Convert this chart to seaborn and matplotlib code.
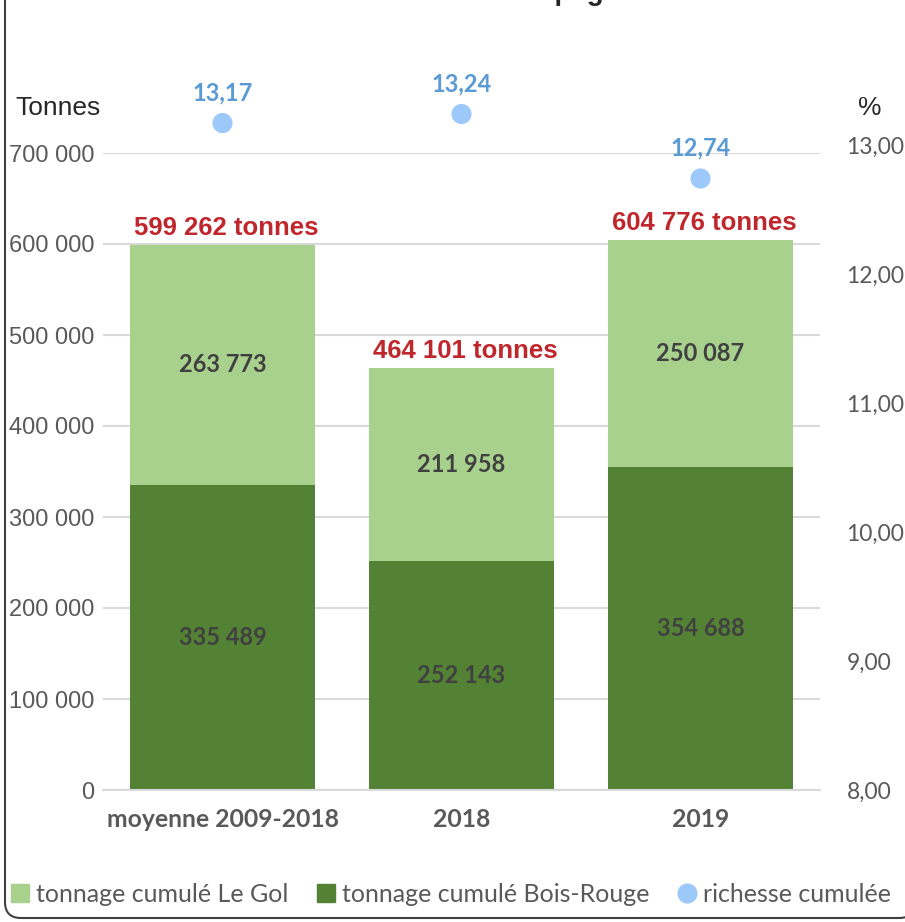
import numpy as np
import pandas as pd
import matplotlib
matplotlib.use("Agg")
import matplotlib.pyplot as plt
from matplotlib.lines import Line2D
from matplotlib.patches import FancyBboxPatch
from matplotlib.ticker import FuncFormatter
import seaborn as sns

# données
categories = ["moyenne 2009-2018", "2018", "2019"]
bois_rouge = [335489, 252143, 354688]
le_gol = [263773, 211958, 250087]
totaux = [599262, 464101, 604776]
richesse = [13.17, 13.24, 12.74]

C_GOL = "#A9D18E"
C_BR = "#548235"
C_RICH = "#9DC8FA"
C_RICH_TXT = "#5B9BD5"
C_TOTAL = "#C0272D"
C_GRIS = "#595959"

def fr(v):
    return f"{int(round(v)):,}".replace(",", " ")

df = pd.DataFrame({"cat": categories, "br": bois_rouge, "gol": le_gol, "total": totaux})

sns.set_style("white")
plt.rcParams["font.family"] = ["Liberation Sans", "DejaVu Sans"]

fig = plt.figure(figsize=(9.05, 9.22), dpi=100)
ax = fig.add_axes([103 / 905, 1 - 790 / 922, 717 / 905, 637 / 922])

# barres empilées : total en clair, Bois-Rouge par-dessus
sns.barplot(data=df, x="cat", y="total", color=C_GOL, width=0.774, ax=ax,
            saturation=1, linewidth=0)
sns.barplot(data=df, x="cat", y="br", color=C_BR, width=0.774, ax=ax,
            saturation=1, linewidth=0)

ax.set_xlim(-0.5, 2.5)
ax.set_ylim(0, 700000)
ax.set_yticks(np.arange(0, 700001, 100000))
ax.yaxis.set_major_formatter(FuncFormatter(lambda v, p: fr(v)))
ax.grid(axis="y", color="#D9D9D9", lw=1.5)
ax.set_axisbelow(True)
for s in ["top", "left", "right"]:
    ax.spines[s].set_visible(False)
ax.spines["bottom"].set_color("#D9D9D9")
ax.spines["bottom"].set_linewidth(1.5)
ax.tick_params(axis="y", length=0, pad=6, labelsize=17, labelcolor=C_GRIS)
ax.tick_params(axis="x", length=0, pad=13)
ax.set_xlabel("")
ax.set_ylabel("")
ax.set_xticks(range(len(categories)))
ax.set_xticklabels(categories, family="Lato", fontweight="bold", fontsize=17.8, color=C_GRIS)

for i in range(len(categories)):
    ax.text(i, bois_rouge[i] / 2, fr(bois_rouge[i]), ha="center", va="center",
            family="Lato", fontweight="bold", fontsize=17, color="#404040")
    ax.text(i, bois_rouge[i] + le_gol[i] / 2, fr(le_gol[i]), ha="center", va="center",
            family="Lato", fontweight="bold", fontsize=17, color="#404040")
    ax.annotate(fr(totaux[i]) + " tonnes", (i, totaux[i]), xytext=(3, 12),
                textcoords="offset points", ha="center", va="center",
                fontweight="bold", fontsize=18.5, color=C_TOTAL, annotation_clip=False)

# richesse sur l'axe de droite (axe un peu plus haut : 13,00 au-dessus de 700 000)
ax2 = fig.add_axes([103 / 905, 1 - 790 / 922, 717 / 905, 645 / 922])
ax2.patch.set_visible(False)
sns.scatterplot(x=np.arange(len(categories)), y=richesse, ax=ax2, color=C_RICH,
                s=210, edgecolor="none", clip_on=False, legend=False, zorder=5)
ax2.set_xlim(-0.5, 2.5)
ax2.set_xticks([])
ax2.set_xlabel("")
ax2.yaxis.tick_right()
ax2.set_yticks(np.arange(8, 13.01, 1))
ax2.set_ylim(8, 13)
ax2.yaxis.set_major_formatter(FuncFormatter(lambda v, p: f"{v:.2f}".replace(".", ",")))
ax2.tick_params(axis="y", length=0, pad=19)
for lab in ax2.get_yticklabels():
    lab.set_family("Lato")
    lab.set_fontsize(16.5)
    lab.set_color(C_GRIS)
for s in ["top", "left", "right", "bottom"]:
    ax2.spines[s].set_visible(False)
ax2.grid(False)
for i, r in enumerate(richesse):
    ax2.annotate(f"{r:.2f}".replace(".", ","), (i, r), xytext=(0, 22),
                 textcoords="offset points", ha="center", va="center",
                 family="Lato", fontweight="bold", fontsize=17, color=C_RICH_TXT,
                 annotation_clip=False)

# titres d'axes
fig.text(15 / 905, 1 - 108 / 922, "Tonnes", ha="left", va="center", fontsize=19, color="#262626")
fig.text(870 / 905, 1 - 108 / 922, "%", ha="center", va="center", fontsize=19, color="#262626")

# titre coupé en haut
fig.text(500 / 905, 1.0, "campagne", ha="left", va="baseline", fontsize=20,
         fontweight="bold", color="#262626")

# légende
handles = [
    Line2D([], [], marker="s", ls="none", color=C_GOL, markersize=13.5),
    Line2D([], [], marker="s", ls="none", color=C_BR, markersize=13.5),
    Line2D([], [], marker="o", ls="none", color=C_RICH, markersize=13.5),
]
labels = ["tonnage cumulé Le Gol", "tonnage cumulé Bois-Rouge", "richesse cumulée"]
fig.legend(handles, labels, loc="center left", bbox_to_anchor=(-13 / 905, 1 - 894 / 922),
           ncol=3, frameon=False, handlelength=0.8, handletextpad=0.25, columnspacing=1.1,
           prop={"family": "Lato", "size": 18}, labelcolor=C_GRIS)

# cadre arrondi
frame = FancyBboxPatch((5, 4), 910, 1000, boxstyle="round,pad=0,rounding_size=16",
                       transform=None, fill=False, edgecolor="#404040", lw=1.5)
fig.patches.append(frame)

fig.savefig("out.png", dpi=100)
